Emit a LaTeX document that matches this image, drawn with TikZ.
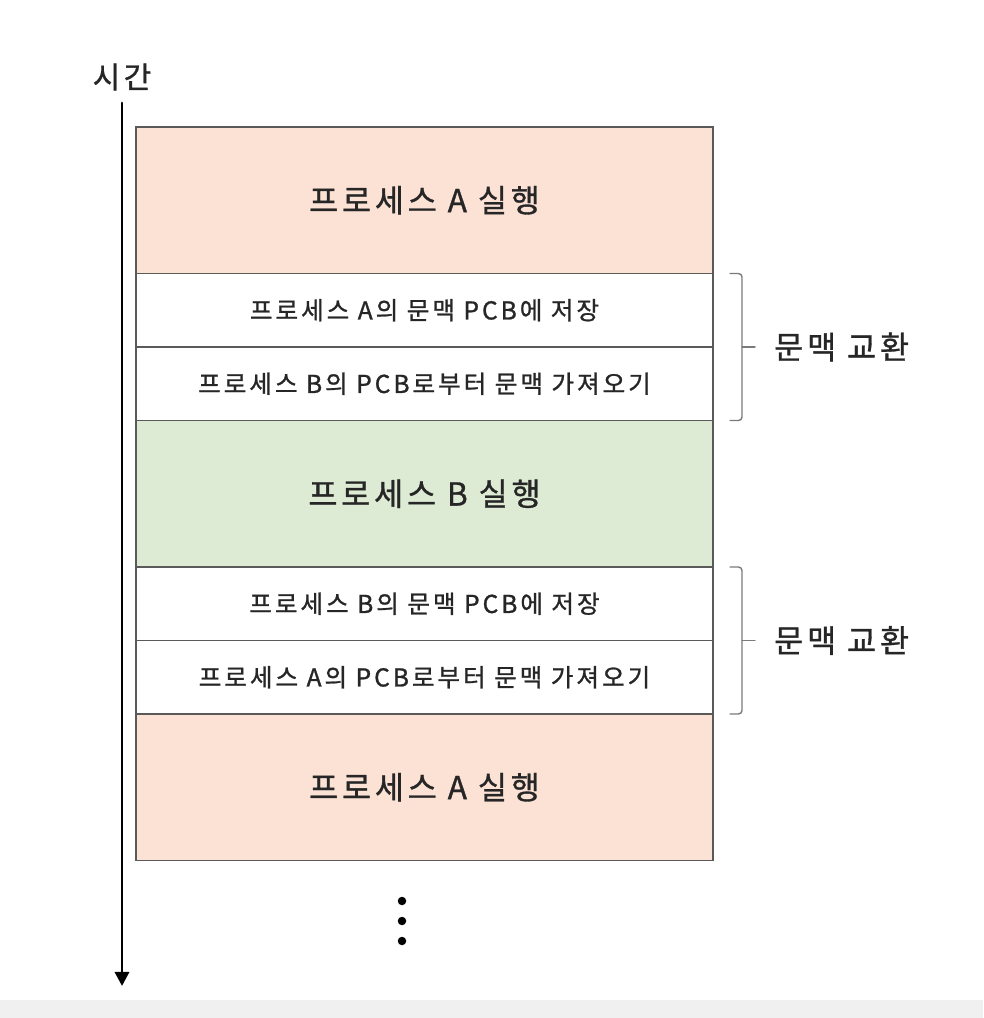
\documentclass[tikz,border=0pt]{standalone}
\usepackage{fontspec}
\setmainfont{Noto Sans CJK KR}[LetterSpace=12, FakeBold=1]
\usetikzlibrary{positioning, arrows.meta}

\definecolor{runA}{HTML}{FCE1D5}
\definecolor{runB}{HTML}{DEEBD4}
\definecolor{edge}{HTML}{5A5A5A}
\definecolor{ink}{HTML}{262626}

\begin{document}
\begin{tikzpicture}[
  line cap=round,
  blk/.style={draw=edge, line width=1.1pt, outer sep=0pt, inner sep=0pt,
              minimum width=11.54cm, text=ink},
  runblk/.style={blk, minimum height=2.93cm, font=\fontsize{18}{21}\selectfont},
  swblk/.style={blk, fill=white, minimum height=1.47cm, font=\fontsize{14}{17}\selectfont},
  brk/.style={edge!80, line width=0.8pt, rounded corners=2pt},
  brklabel/.style={anchor=west, text=ink, font=\fontsize{18}{21}\selectfont},
  tarrow/.style={-{Triangle[length=8pt, width=8pt]}, line width=1.7pt},
]

% 그림 크기 (983x1018)
\useasboundingbox (0,0) rectangle (19.66,-20.36);
\fill[black!6] (0,-20.0) rectangle (19.66,-20.36);

% 시간 축
\node[text=ink, font=\fontsize{17}{20}\selectfont] (time) at (2.44,-1.54) {시간};
\coordinate (tstart) at (2.44,-2.06);
\coordinate (tend) at (2.44,-19.72);
\draw[tarrow] (tstart) -- (tend);

% 실행 / 문맥 교환 블록
\node[runblk, fill=runA, anchor=north west] (runA1) at (2.72,-2.54) {프로세스 A 실행};
\node[swblk, below=0pt of runA1] (saveA) {프로세스 A의 문맥 PCB에 저장};
\node[swblk, below=0pt of saveA] (loadB) {프로세스 B의 PCB로부터 문맥 가져오기};
\node[runblk, fill=runB, below=0pt of loadB] (runB1) {프로세스 B 실행};
\node[swblk, below=0pt of runB1] (saveB) {프로세스 B의 문맥 PCB에 저장};
\node[swblk, below=0pt of saveB] (loadA) {프로세스 A의 PCB로부터 문맥 가져오기};
\node[runblk, fill=runA, below=0pt of loadA] (runA2) {프로세스 A 실행};

% 괄호 + 라벨
\foreach \up/\dn/\nm in {saveA/loadB/sw1, saveB/loadA/sw2}{
  \coordinate (\nm top) at ([xshift=0.34cm]\up.north east);
  \coordinate (\nm bot) at ([xshift=0.34cm]\dn.south east);
  \coordinate (\nm mid) at ([xshift=0.58cm]\up.south east);
  \draw[brk] (\nm top) -| (\nm mid) |- (\nm bot);
  \draw[brk] (\nm mid) -- ++(0.26,0);
  \node[brklabel] (\nm label) at ([xshift=0.52cm]\nm mid) {문맥 교환};
}

% 계속
\foreach \i/\y in {1/-18.02, 2/-18.42, 3/-18.82}
  \fill (8.04,\y) circle (0.085) coordinate (dot\i);

\end{tikzpicture}
\end{document}
